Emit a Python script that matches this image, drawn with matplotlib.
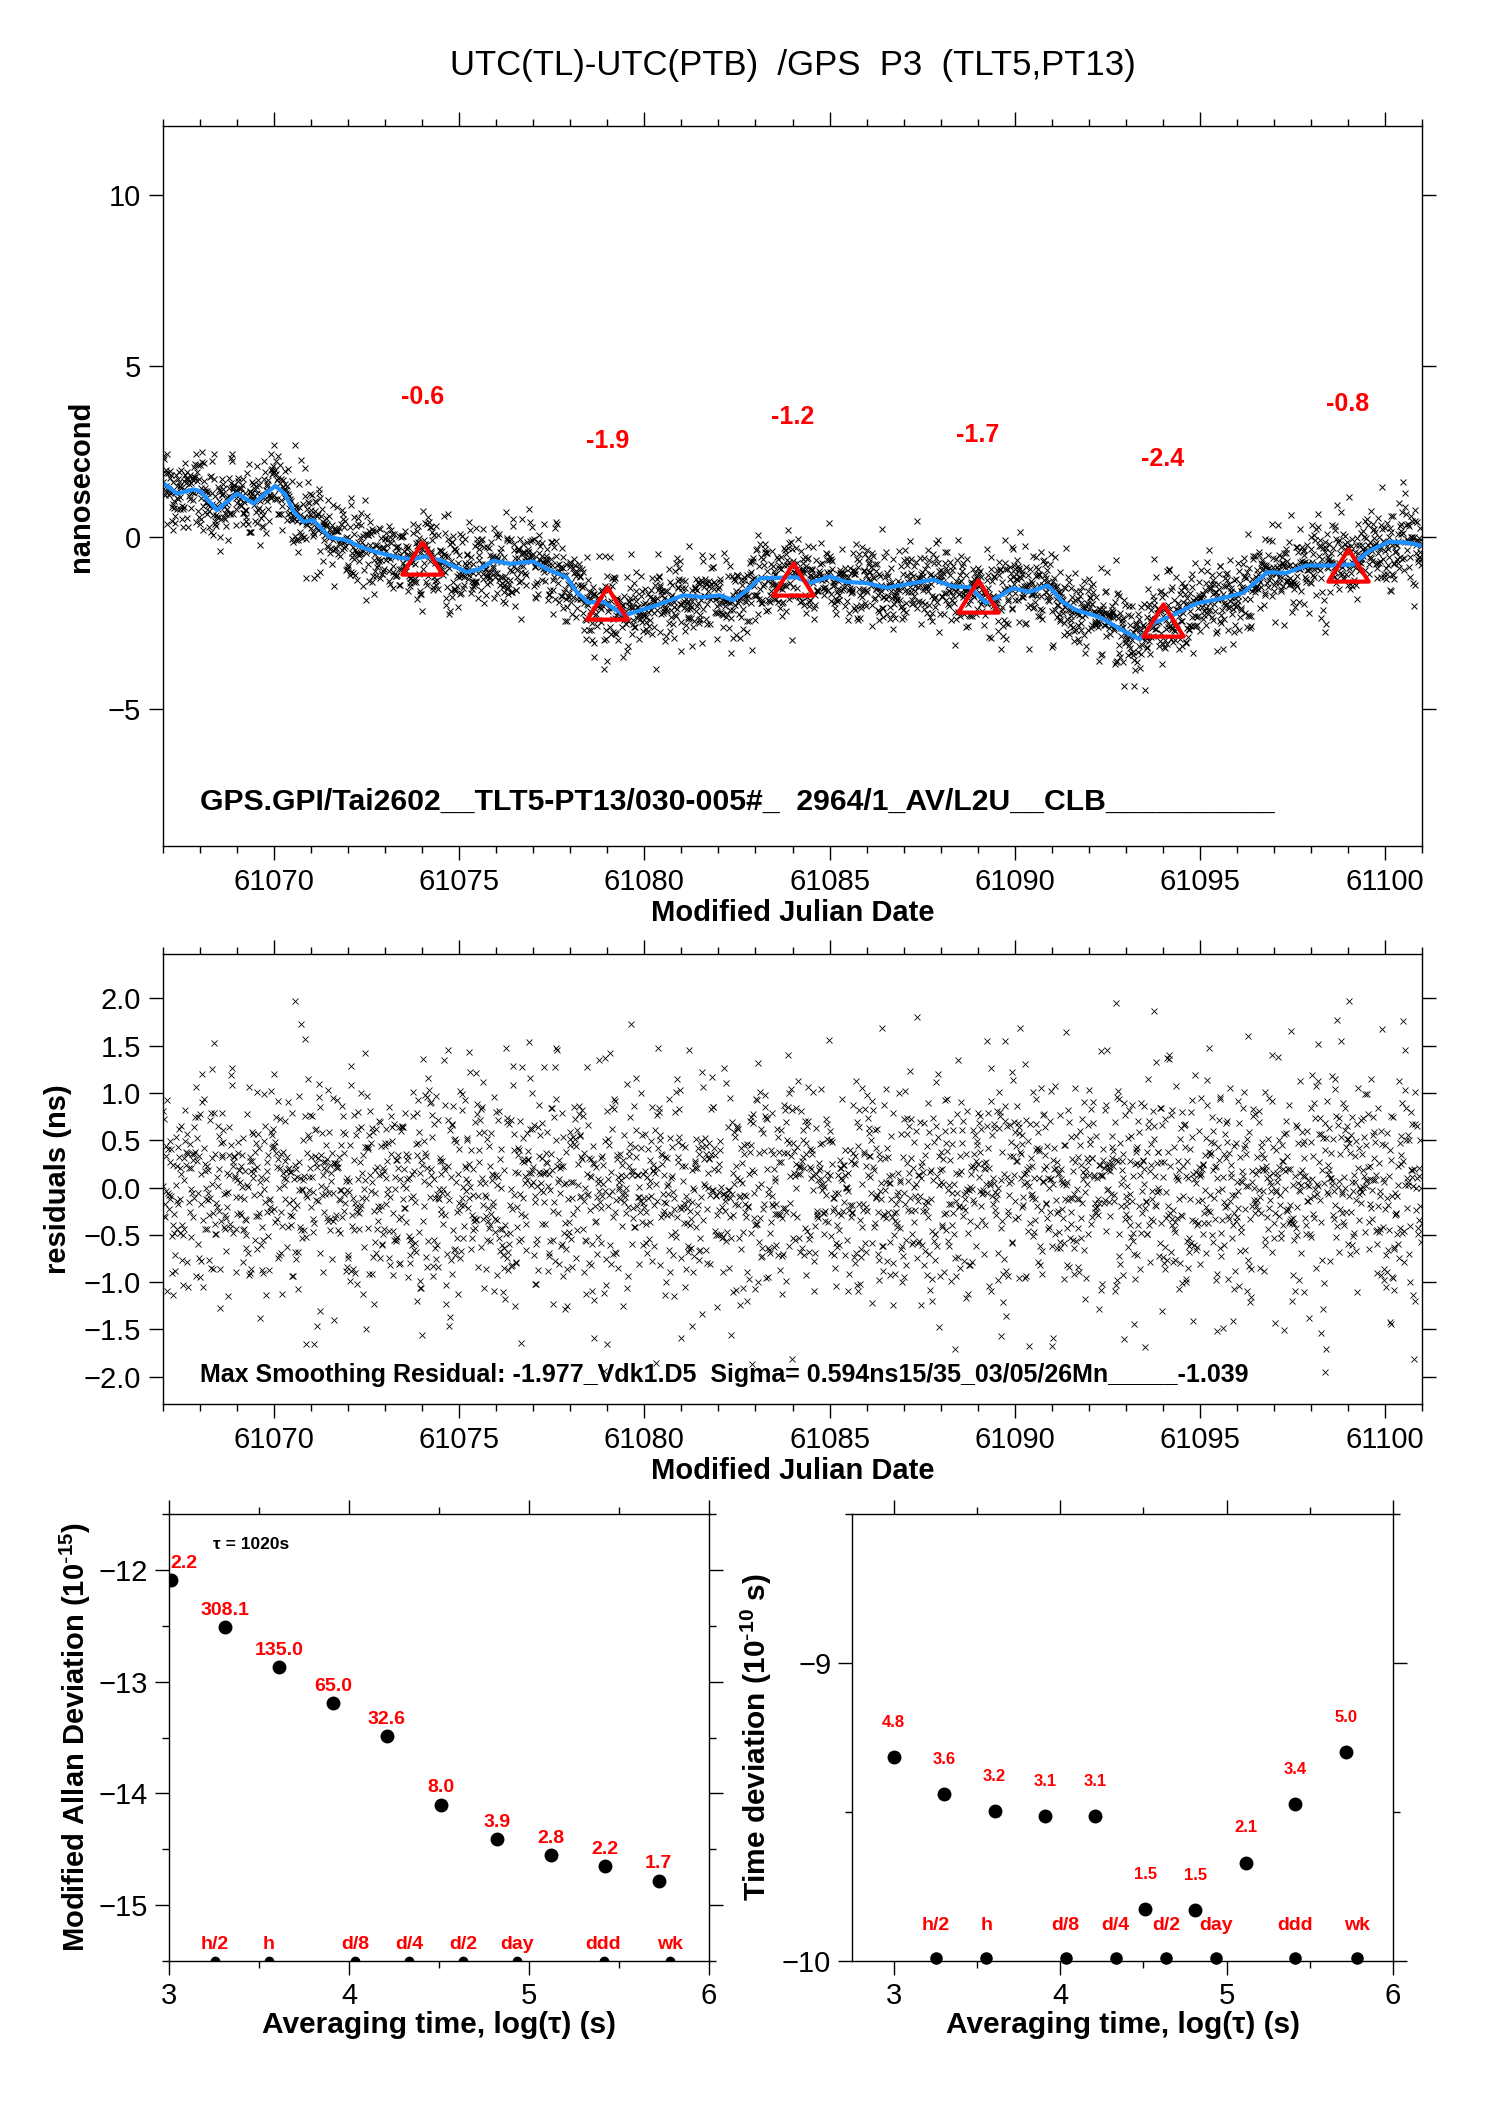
"""
UTC(TL)-UTC(PTB) GPS P3 link plot: raw data, residuals, MDEV and TDEV
"""
import numpy as np
import matplotlib
matplotlib.use("Agg")
import matplotlib.pyplot as plt
from matplotlib.ticker import MultipleLocator, FuncFormatter
from matplotlib.path import Path

plt.rcParams["font.family"] = ["Liberation Sans", "DejaVu Sans"]
plt.rcParams["mathtext.default"] = "regular"

# ── Data ─────────────────────────────────────────────────────────────────────
# smoothed curve (blue), MJD / ns
smooth_mjd = [61067.00, 61067.38, 61067.83, 61068.00, 61068.46, 61069.00, 61069.44,
              61070.03, 61070.30, 61070.52, 61070.79, 61071.06, 61071.51, 61071.96,
              61072.32, 61072.77, 61073.40, 61073.76, 61074.12, 61074.57, 61075.20,
              61075.56, 61075.92, 61076.37, 61077.00, 61077.36, 61077.90, 61078.17,
              61078.48, 61078.89, 61079.47, 61080.33, 61081.05, 61081.59, 61082.04,
              61082.40, 61082.76, 61083.12, 61083.57, 61084.11, 61084.47, 61085.01,
              61085.46, 61086.00, 61086.54, 61087.16, 61087.79, 61088.33, 61088.78,
              61089.23, 61089.55, 61089.95, 61090.40, 61090.90, 61091.30, 61091.66,
              61092.29, 61092.83, 61093.37, 61093.73, 61094.27, 61094.90, 61095.62,
              61096.16, 61096.83, 61097.33, 61097.87, 61098.50, 61099.13, 61099.58,
              61100.12, 61100.66, 61100.97]
smooth_ns = [1.59, 1.28, 1.40, 1.35, 0.80, 1.28, 0.99,
             1.50, 1.26, 0.77, 0.46, 0.50, 0.00, -0.08,
             -0.27, -0.43, -0.60, -0.63, -0.55, -0.70, -1.01,
             -0.92, -0.68, -0.77, -0.70, -0.92, -1.16, -1.59,
             -1.90, -1.88, -2.27, -1.98, -1.69, -1.74, -1.69,
             -1.83, -1.55, -1.19, -1.18, -1.16, -1.33, -1.14,
             -1.30, -1.33, -1.47, -1.35, -1.23, -1.43, -1.45,
             -1.91, -1.74, -1.48, -1.59, -1.40, -1.88, -2.12,
             -2.32, -2.66, -2.97, -2.51, -2.27, -1.93, -1.77,
             -1.62, -1.01, -1.04, -0.82, -0.82, -0.79, -0.39,
             -0.12, -0.16, -0.24]

# daily means (red triangles)
mean_mjd = [61074, 61079, 61084, 61089, 61094, 61099]
mean_ns = [-0.6, -1.9, -1.2, -1.7, -2.4, -0.8]

SIGMA = 0.594          # "Sigma= 0.594ns"
MAX_RES = 1.977        # "Max Smoothing Residual: -1.977"
STEP_S = 1020          # "tau = 1020s"

# modified Allan deviation
mdev_logtau = [3.01, 3.31, 3.61, 3.91, 4.21, 4.51, 4.82, 5.12, 5.42, 5.72]
mdev_log = [-12.09, -12.51, -12.87, -13.19, -13.49, -14.10, -14.41, -14.55, -14.65, -14.78]
mdev_lab = ["2.2", "308.1", "135.0", "65.0", "32.6", "8.0", "3.9", "2.8", "2.2", "1.7"]

# time deviation
tdev_logtau = [3.00, 3.305, 3.607, 3.909, 4.211, 4.513, 4.812, 5.114, 5.413, 5.718]
tdev_log = [-9.316, -9.441, -9.497, -9.514, -9.513, -9.825, -9.829, -9.670, -9.474, -9.300]
tdev_lab = ["4.8", "3.6", "3.2", "3.1", "3.1", "1.5", "1.5", "2.1", "3.4", "5.0"]

# reference averaging times
ref_logtau = [3.255, 3.556, 4.033, 4.334, 4.635, 4.936, 5.414, 5.782]
ref_lab = ["h/2", "h", "d/8", "d/4", "d/2", "day", "ddd", "wk"]

# ── Raw samples: smooth curve + residual cloud ───────────────────────────────
# the individual points cannot be read, so the cloud uses the printed sigma
t = np.arange(61067.0, 61101.0, STEP_S / 86400.0)
rng = np.random.default_rng(11)
resid = np.clip(rng.normal(0.0, SIGMA, t.size), -MAX_RES, MAX_RES)
raw = np.interp(t, smooth_mjd, smooth_ns) + resid

# ── Figure ───────────────────────────────────────────────────────────────────
W, H = 1488, 2105
fig = plt.figure(figsize=(W / 100, H / 100), dpi=100)


def box(l, r, top, bot):
    return [l / W, 1 - bot / H, (r - l) / W, (bot - top) / H]


def style(ax, size=21, pad=6):
    for s in ax.spines.values():
        s.set_linewidth(1.0)
    ax.tick_params(which="both", direction="out", top=True, right=True,
                   width=1.0, labelsize=size)
    ax.tick_params(which="major", length=10, pad=pad)
    ax.tick_params(which="minor", length=5)


def minus(fmt):
    return FuncFormatter(lambda v, p: format(v, fmt).replace("-", "\u2212"))


tri = Path([(-1, -0.8), (1, -0.8), (0, 0.8), (-1, -0.8)],
           [Path.MOVETO, Path.LINETO, Path.LINETO, Path.CLOSEPOLY])

# top panel
ax1 = fig.add_axes(box(163, 1422, 126, 846))
ax1.plot(t, raw, "x", color="black", ms=4, mew=0.7)
ax1.plot(smooth_mjd, smooth_ns, color="#1E90FF", lw=3)
ax1.plot(mean_mjd, mean_ns, linestyle="none", marker=tri, ms=29,
         mfc="none", mec="#FF0000", mew=3)
for x, v in zip(mean_mjd, mean_ns):
    ax1.text(x, v + 4.7, f"{v:.1f}", color="#FF0000", fontsize=18,
             fontweight="bold", ha="center", va="center")
ax1.set_xlim(61067, 61101)
ax1.set_ylim(-9, 12)
ax1.xaxis.set_major_locator(MultipleLocator(5))
ax1.xaxis.set_minor_locator(MultipleLocator(1))
ax1.yaxis.set_major_locator(MultipleLocator(5))
ax1.yaxis.set_major_formatter(minus("g"))
style(ax1)
ax1.set_xlabel("Modified Julian Date", fontsize=21, fontweight="bold", labelpad=2)
ax1.set_ylabel("nanosecond", fontsize=21, fontweight="bold", labelpad=9)
ax1.text(0.029, 0.062,
         "GPS.GPI/Tai2602__TLT5-PT13/030-005#_  2964/1_AV/L2U__CLB__________",
         transform=ax1.transAxes, fontsize=21.7, fontweight="bold", va="center")
fig.text((163 + 1422) / 2 / W, 1 - 65 / H,
         "UTC(TL)-UTC(PTB)  /GPS  P3  (TLT5,PT13)", fontsize=25,
         ha="center", va="center")

# residual panel
ax2 = fig.add_axes(box(163, 1422, 954, 1404))
ax2.plot(t, resid, "x", color="black", ms=4, mew=0.6)
ax2.set_xlim(61067, 61101)
ax2.set_ylim(-2.29, 2.47)
ax2.xaxis.set_major_locator(MultipleLocator(5))
ax2.xaxis.set_minor_locator(MultipleLocator(1))
ax2.yaxis.set_major_locator(MultipleLocator(0.5))
ax2.yaxis.set_major_formatter(minus(".1f"))
style(ax2)
ax2.set_xlabel("Modified Julian Date", fontsize=21, fontweight="bold", labelpad=2)
ax2.set_ylabel("residuals (ns)", fontsize=21, fontweight="bold", labelpad=8)
ax2.text(0.029, 0.064,
         "Max Smoothing Residual: -1.977_Vdk1.D5  Sigma= 0.594ns15/35_03/05/26Mn_____-1.039",
         transform=ax2.transAxes, fontsize=18, fontweight="bold", va="center")

# modified Allan deviation
ax3 = fig.add_axes(box(169, 709, 1514, 1961))
ax3.plot(mdev_logtau, mdev_log, "o", color="black", ms=9)
for x, y, s in zip(mdev_logtau, mdev_log, mdev_lab):
    ax3.annotate(s, (x, y), xytext=(0, 12), textcoords="offset points",
                 color="#FF0000", fontsize=14, fontweight="bold",
                 ha="left" if x < 3.05 else "center", va="center")
ax3.plot(ref_logtau, [-15.5] * len(ref_logtau), "o", color="black", ms=6)
for x, s in zip(ref_logtau, ref_lab):
    ax3.text(x, -15.35, s, color="#FF0000", fontsize=14, fontweight="bold",
             ha="center", va="center")
ax3.text(3.457, -11.77, "τ = 1020s", fontsize=12.5, fontweight="bold",
         ha="center", va="center")
ax3.set_xlim(3, 6)
ax3.set_ylim(-15.5, -11.5)
ax3.xaxis.set_major_locator(MultipleLocator(1))
ax3.xaxis.set_minor_locator(MultipleLocator(0.5))
ax3.yaxis.set_major_locator(MultipleLocator(1))
ax3.yaxis.set_minor_locator(MultipleLocator(0.5))
ax3.yaxis.set_major_formatter(minus("g"))
style(ax3, pad=5)
ax3.set_xlabel("Averaging time, log(τ) (s)", fontsize=21.5, fontweight="bold", labelpad=1)
ax3.set_ylabel(r"Modified Allan Deviation (10$^{\text{-}15}$)", fontsize=21,
               fontweight="bold", labelpad=4)

# time deviation
ax4 = fig.add_axes(box(852, 1393, 1514, 1961))
ax4.plot(tdev_logtau, tdev_log, "o", color="black", ms=9)
for x, y, s in zip(tdev_logtau, tdev_log, tdev_lab):
    ax4.annotate(s, (x, y), xytext=(0, 25), textcoords="offset points",
                 color="#FF0000", fontsize=12, fontweight="bold",
                 ha="center", va="center")
ax4.plot(ref_logtau, [-9.99] * len(ref_logtau), "o", color="black", ms=8,
         clip_on=False)
for x, s in zip(ref_logtau, ref_lab):
    ax4.text(x, -9.88, s, color="#FF0000", fontsize=14, fontweight="bold",
             ha="center", va="center")
ax4.set_xlim(2.75, 6)
ax4.set_ylim(-10, -8.5)
ax4.xaxis.set_major_locator(MultipleLocator(1))
ax4.xaxis.set_minor_locator(MultipleLocator(0.5))
ax4.yaxis.set_major_locator(MultipleLocator(1))
ax4.yaxis.set_minor_locator(MultipleLocator(0.5))
ax4.yaxis.set_major_formatter(minus("g"))
style(ax4, pad=5)
ax4.set_xlabel("Averaging time, log(τ) (s)", fontsize=21.5, fontweight="bold", labelpad=1)
ax4.set_ylabel(r"Time deviation (10$^{\text{-}10}$ s)", fontsize=21.5,
               fontweight="bold", labelpad=6)

fig.savefig("out.png", dpi=100)
